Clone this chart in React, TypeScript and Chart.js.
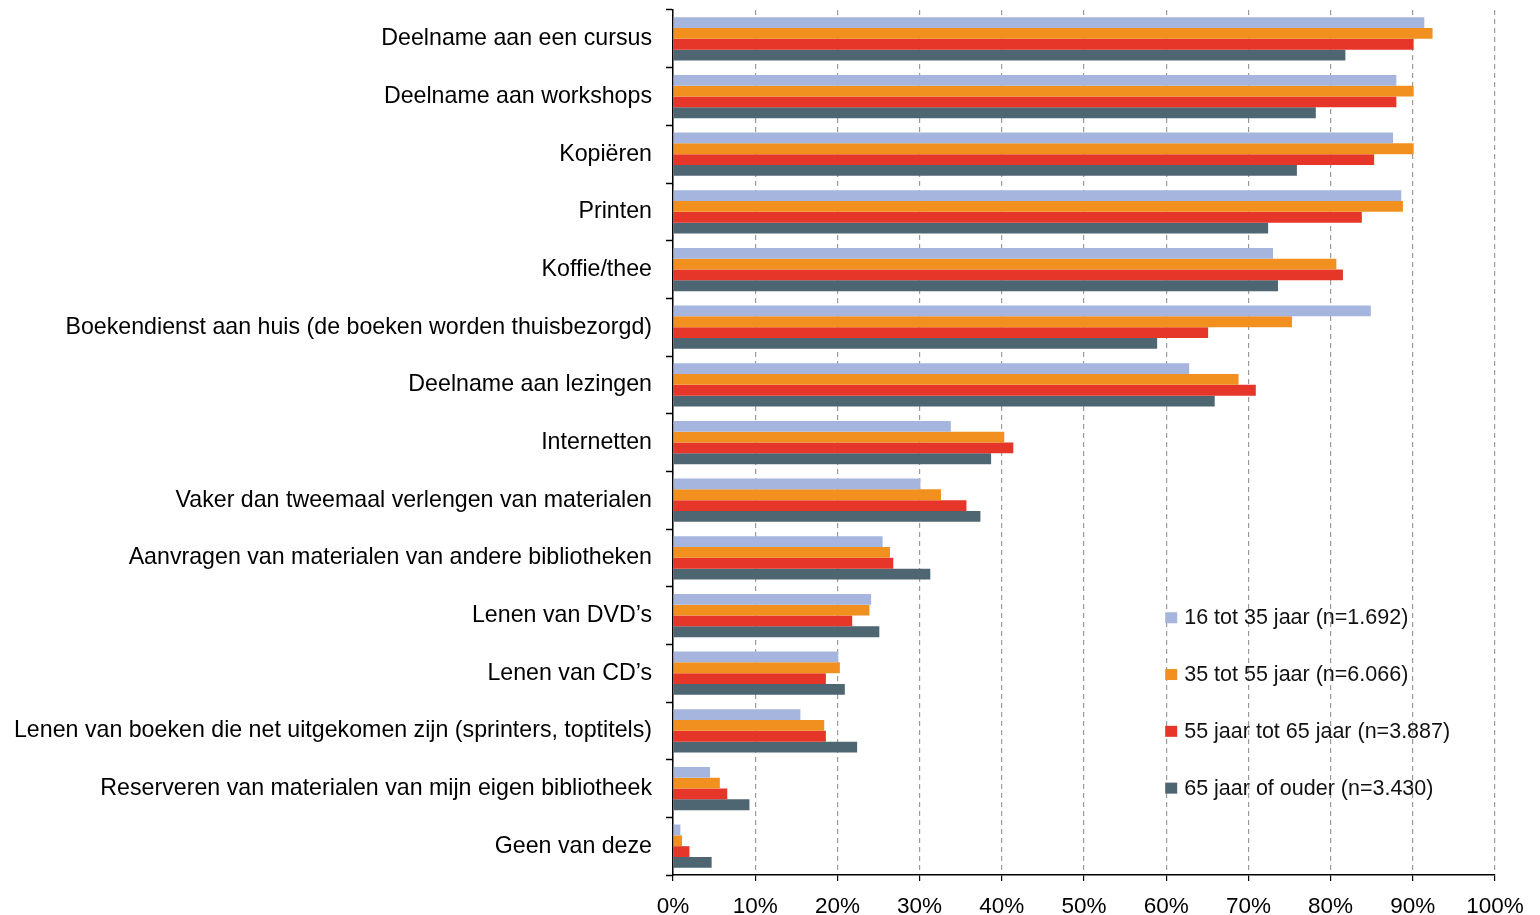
import React, { useEffect, useRef } from "react";
import { Chart, registerables } from "chart.js";

Chart.register(...registerables);

const categories = [
  "Deelname aan een cursus",
  "Deelname aan workshops",
  "Kopiëren",
  "Printen",
  "Koffie/thee",
  "Boekendienst aan huis (de boeken worden thuisbezorgd)",
  "Deelname aan lezingen",
  "Internetten",
  "Vaker dan tweemaal verlengen van materialen",
  "Aanvragen van materialen van andere bibliotheken",
  "Lenen van DVD’s",
  "Lenen van CD’s",
  "Lenen van boeken die net uitgekomen zijn (sprinters, toptitels)",
  "Reserveren van materialen van mijn eigen bibliotheek",
  "Geen van deze",
];

const seriesNames = [
  "16 tot 35 jaar (n=1.692)",
  "35 tot 55 jaar (n=6.066)",
  "55 jaar tot 65 jaar (n=3.887)",
  "65 jaar of ouder (n=3.430)",
];

const age16to35 = [91.4, 88.0, 87.6, 88.6, 73.0, 84.9, 62.8, 33.8, 30.1, 25.5, 24.1, 20.1, 15.5, 4.5, 0.9];
const age35to55 = [92.4, 90.1, 90.1, 88.8, 80.7, 75.3, 68.8, 40.3, 32.6, 26.4, 23.9, 20.3, 18.4, 5.7, 1.1];
const age55to65 = [90.1, 88.0, 85.3, 83.8, 81.5, 65.1, 70.9, 41.4, 35.7, 26.8, 21.8, 18.6, 18.6, 6.6, 2.0];
const age65plus = [81.8, 78.2, 75.9, 72.4, 73.6, 58.9, 65.9, 38.7, 37.4, 31.3, 25.1, 20.9, 22.4, 9.3, 4.7];

const seriesValues = [age16to35, age35to55, age55to65, age65plus];
const seriesColors = ["#A5B5DE", "#F2901F", "#E63629", "#4E6572"];

const xTicks = [0, 10, 20, 30, 40, 50, 60, 70, 80, 90, 100];

const FONT = "'Liberation Sans', Arial, sans-serif";

const legendPlugin = {
  id: "insideLegend",
  afterDraw(chart: any) {
    const { ctx, chartArea } = chart;
    const w = chartArea.right - chartArea.left;
    const h = chartArea.bottom - chartArea.top;
    const x0 = chartArea.left + 0.6 * w - 1;
    const y0 = chartArea.top + 0.702 * h;
    const step = 56.8;
    ctx.save();
    ctx.font = `21.5px ${FONT}`;
    ctx.textBaseline = "middle";
    ctx.textAlign = "left";
    seriesNames.forEach((name, i) => {
      const y = y0 + i * step;
      ctx.fillStyle = seriesColors[i];
      ctx.fillRect(x0, y - 5, 12, 11);
      ctx.fillStyle = "#111";
      ctx.fillText(name, x0 + 19, y + 1);
    });
    ctx.restore();
  },
};

export default function App() {
  const canvasRef = useRef<HTMLCanvasElement | null>(null);

  useEffect(() => {
    document.body.style.margin = "0";
    const canvas = canvasRef.current;
    if (!canvas) return;
    const chart = new Chart(canvas, {
      type: "bar",
      data: {
        labels: categories,
        datasets: seriesValues.map((vals, i) => ({
          label: seriesNames[i],
          data: vals,
          backgroundColor: seriesColors[i],
          borderWidth: 0,
          barPercentage: 1,
          categoryPercentage: 0.75,
        })),
      },
      options: {
        indexAxis: "y",
        animation: false,
        responsive: false,
        maintainAspectRatio: false,
        layout: { padding: { top: 10, right: 45, left: 0, bottom: 0 } },
        plugins: {
          legend: { display: false },
          tooltip: { enabled: false },
        },
        scales: {
          x: {
            min: 0,
            max: 100,
            afterBuildTicks: (scale: any) => {
              scale.ticks = xTicks.map((v) => ({ value: v }));
            },
            afterFit: (scale: any) => {
              scale.height = 40;
            },
            ticks: {
              callback: (v: any) => `${v}%`,
              font: { family: FONT, size: 22.5 },
              color: "#000",
              padding: 12,
              maxRotation: 0,
              autoSkip: false,
            },
            grid: {
              color: "#9a9a9a",
              lineWidth: 1.2,
              tickBorderDash: [],
              tickColor: "#000",
              tickLength: 6,
              drawTicks: true,
            } as any,
            border: { display: true, color: "#000", width: 1.5, dash: [5, 4] } as any,
          },
          y: {
            afterFit: (scale: any) => {
              scale.width = 673;
              scale.paddingTop = 0;
              scale.paddingBottom = 0;
            },
            ticks: {
              font: { family: FONT, size: 23.2, lineHeight: 0.1 },
              color: "#000",
              padding: 14,
              autoSkip: false,
            },
            grid: {
              drawOnChartArea: false,
              drawTicks: true,
              tickLength: 7,
              tickColor: "#000",
              tickWidth: 1.5,
              offset: true,
            } as any,
            border: { display: true, color: "#000", width: 1.5 },
          },
        },
      },
      plugins: [legendPlugin],
    });
    return () => chart.destroy();
  }, []);

  return (
    <div style={{ width: 1540, height: 915 }}>
      <canvas ref={canvasRef} width={1540} height={915} style={{ display: "block" }} />
    </div>
  );
}
